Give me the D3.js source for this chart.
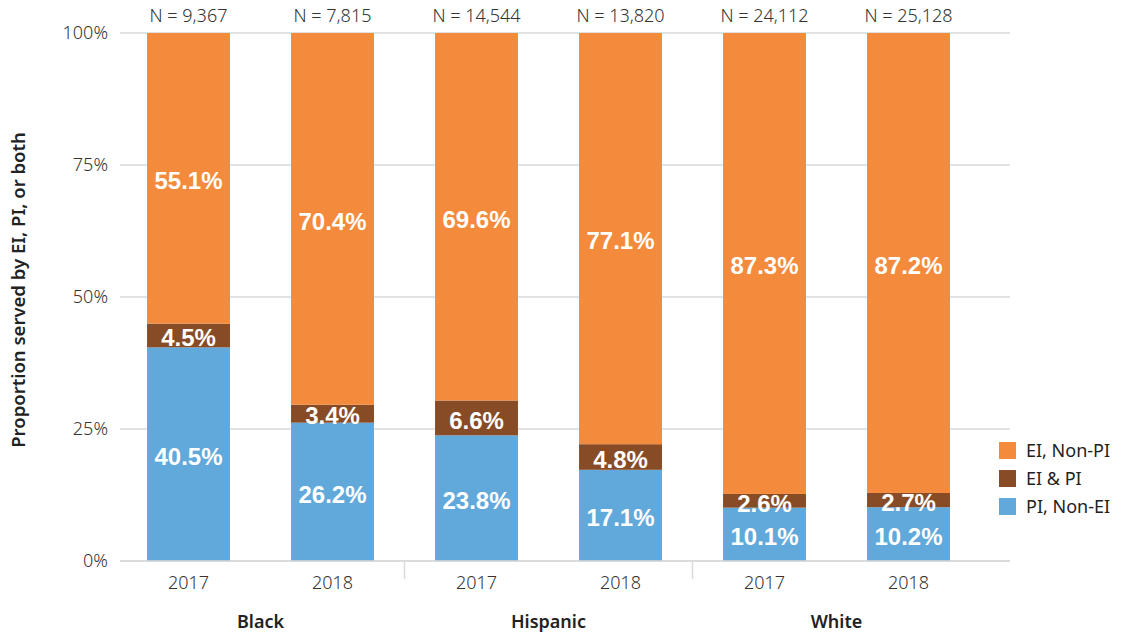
<!DOCTYPE html>
<html><head><meta charset="utf-8">
<script src="https://cdn.jsdelivr.net/npm/d3@7"></script>
<style>body{margin:0;background:#fff}svg{display:block}</style>
</head><body>
<svg id="chart" width="1122" height="636"></svg>
<script>
const groups = ["Black", "Hispanic", "White"];
const years = ["2017", "2018"];
const nLabels = ["N = 9,367", "N = 7,815", "N = 14,544", "N = 13,820", "N = 24,112", "N = 25,128"];
const seriesNames = ["PI, Non-EI", "EI & PI", "EI, Non-PI"];
const piNonEI = [40.5, 26.2, 23.8, 17.1, 10.1, 10.2];
const eiAndPI = [4.5, 3.4, 6.6, 4.8, 2.6, 2.7];
const eiNonPI = [55.1, 70.4, 69.6, 77.1, 87.3, 87.2];
const yTicks = [0, 0.25, 0.5, 0.75, 1];
const colors = ["#61A8DB", "#874C26", "#F48A3B"];

const rows = [];
groups.forEach((g, gi) => years.forEach((yr, yi) => {
  const i = gi * 2 + yi;
  rows.push({key: g + "-" + yr, group: g, year: yr, n: nLabels[i],
    "PI, Non-EI": piNonEI[i], "EI & PI": eiAndPI[i], "EI, Non-PI": eiNonPI[i]});
}));

const svg = d3.select("#chart");
const font = "'Noto Sans', sans-serif";
const fs = 18;
const x = d3.scaleBand().domain(rows.map(d => d.key)).range([116.5, 980.5])
  .paddingInner(0.424).paddingOuter(0.212);
const y = d3.scaleLinear().domain([0, 1]).range([561, 33]);

// gridlines
svg.append("g").selectAll("line").data(yTicks).join("line")
  .attr("x1", 120).attr("x2", 1010).attr("y1", d => y(d)).attr("y2", d => y(d))
  .attr("stroke", "#d9d9d9").attr("stroke-width", 1.5);

// y axis labels
const yAxis = svg.append("g").attr("transform", "translate(120,0)")
  .call(d3.axisLeft(y).tickValues(yTicks).tickFormat(d3.format(".0%")).tickSize(0).tickPadding(12));
yAxis.select(".domain").remove();
yAxis.selectAll("text").attr("font-family", font).attr("font-size", fs).attr("fill", "#333")
  .attr("font-weight", 300);

svg.append("text").attr("transform", "translate(25,290) rotate(-90)")
  .attr("text-anchor", "middle").attr("font-family", font).attr("font-size", 18.5)
  .attr("font-weight", 600).attr("fill", "#222").text("Proportion served by EI, PI, or both");

const stack = d3.stack().keys(seriesNames).offset(d3.stackOffsetExpand);
const stacked = stack(rows);

const layer = svg.append("g").selectAll("g").data(stacked).join("g")
  .attr("fill", (d, i) => colors[i]);
layer.selectAll("rect").data(d => d).join("rect")
  .attr("x", d => x(d.data.key)).attr("width", x.bandwidth())
  .attr("y", d => y(d[1])).attr("height", d => y(d[0]) - y(d[1]));

// value labels
stacked.forEach(s => {
  svg.append("g").selectAll("text").data(s).join("text")
    .attr("x", d => x(d.data.key) + x.bandwidth() / 2)
    .attr("y", d => (y(d[0]) + y(d[1])) / 2)
    .attr("dy", "0.45em").attr("text-anchor", "middle")
    .attr("font-family", "'Liberation Sans Narrow', 'Arial Narrow', sans-serif")
    .attr("font-weight", 700).attr("font-size", 24).attr("fill", "#fff")
    .text(d => d.data[s.key].toFixed(1) + "%");
});

// N labels
svg.append("g").selectAll("text").data(rows).join("text")
  .attr("x", d => x(d.key) + x.bandwidth() / 2).attr("y", 16).attr("dy", "0.35em")
  .attr("text-anchor", "middle").attr("font-family", font).attr("font-size", fs)
  .attr("fill", "#333").attr("font-weight", 300).text(d => d.n);

// x axis baseline
svg.append("line").attr("x1", 120).attr("x2", 1010).attr("y1", y(0)).attr("y2", y(0))
  .attr("stroke", "#d9d9d9").attr("stroke-width", 1.5);

// year labels
svg.append("g").selectAll("text").data(rows).join("text")
  .attr("x", d => x(d.key) + x.bandwidth() / 2).attr("y", 583).attr("dy", "0.35em")
  .attr("text-anchor", "middle").attr("font-family", font).attr("font-size", fs)
  .attr("fill", "#333").attr("font-weight", 300).text(d => d.year);

// group separators
const step = x.step();
[1, 2].forEach(gi => {
  const sx = x(rows[gi * 2].key) - (step - x.bandwidth()) / 2;
  svg.append("line").attr("x1", sx).attr("x2", sx).attr("y1", y(0)).attr("y2", 579)
    .attr("stroke", "#d9d9d9").attr("stroke-width", 1.5);
});

// group labels
svg.append("g").selectAll("text").data(groups).join("text")
  .attr("x", (g, gi) => (x(rows[gi * 2].key) + x(rows[gi * 2 + 1].key) + x.bandwidth()) / 2)
  .attr("y", 622).attr("dy", "0.35em").attr("text-anchor", "middle")
  .attr("font-family", font).attr("font-size", fs).attr("font-weight", 600)
  .attr("fill", "#222").text(g => g);

// legend
const legendOrder = [2, 1, 0];
const lg = svg.append("g").selectAll("g").data(legendOrder).join("g")
  .attr("transform", (d, i) => `translate(999,${442 + i * 28})`);
lg.append("rect").attr("width", 17).attr("height", 17).attr("fill", d => colors[d]);
lg.append("text").attr("x", 27).attr("y", 9).attr("dy", "0.35em")
  .attr("font-family", font).attr("font-size", fs).attr("fill", "#222")
  .text(d => seriesNames[d]);
</script>
</body></html>
